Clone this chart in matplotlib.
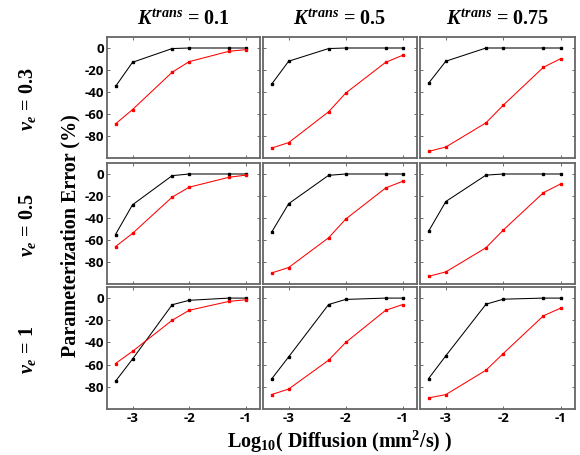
import numpy as np
import matplotlib
matplotlib.use("Agg")
import matplotlib.pyplot as plt

plt.rcParams['mathtext.fontset'] = 'custom'
plt.rcParams['mathtext.rm'] = 'Liberation Serif:bold'
plt.rcParams['mathtext.it'] = 'Liberation Serif:italic:bold'
plt.rcParams['mathtext.bf'] = 'Liberation Serif:bold'

# log10 of diffusion values
log_d = [-3.3, -3.0, -2.3, -2.0, -1.3, -1.0]

ktrans = ['0.1', '0.5', '0.75']
ve = ['0.3', '0.5', '1']

# black series, rows = ve, cols = ktrans
black = [
    [[-35, -13, -0.5, 0, 0, 0], [-33, -12, -0.5, 0, 0, 0], [-32, -12, 0, 0, 0, 0]],
    [[-55, -28, -1.5, 0, 0, 0], [-53, -27, -1.2, 0, 0, 0], [-52, -25, -1, 0, 0, 0]],
    [[-75, -55, -6, -2, 0, 0], [-73, -53, -5.8, -1.2, 0, 0], [-72.5, -52, -5.5, -1, 0, 0]],
]
# red series
red = [
    [[-69, -56, -22, -12.4, -3, -1.5], [-91, -86, -58, -41, -13, -6.6], [-94, -90, -68, -52, -17.5, -9.7]],
    [[-66, -54, -21, -12, -3, -1], [-90, -85, -58, -41, -12.7, -6.6], [-93, -89, -67, -51, -17, -9]],
    [[-59, -48, -20, -11, -3, -1.5], [-87, -82, -56, -40, -11, -5.8], [-90, -87, -65, -50, -16, -9]],
]

W, H = 580, 455
fig = plt.figure(figsize=(W / 100, H / 100), dpi=100)

cols_px = [(107, 260), (263, 417), (420, 575)]
rows_px = [(37, 158), (163, 284), (287, 409)]

tick_font = dict(family='Open Sans', weight='bold', size=9.5)
serif = ['Liberation Serif', 'DejaVu Serif']

for r, (yt, yb) in enumerate(rows_px):
    for c, (xl, xr) in enumerate(cols_px):
        ax = fig.add_axes([xl / W, 1 - yb / H, (xr - xl) / W, (yb - yt) / H])
        ax.plot(log_d, black[r][c], color='black', lw=0.75, marker='s', ms=1.8)
        ax.plot(log_d, red[r][c], color='red', lw=0.75, marker='s', ms=1.8)
        ax.set_xlim(-3.45, -0.75)
        ax.set_ylim(-100, 10)
        ax.set_xticks([-3, -2, -1])
        ax.set_yticks([0, -20, -40, -60, -80])
        ax.tick_params(direction='in', length=2, width=0.6, top=True, right=True,
                       color='#555555', pad=2)
        for s in ax.spines.values():
            s.set_color('#666666')
            s.set_linewidth(1.3)
        if c == 0:
            ax.set_yticklabels(['0', '-20', '-40', '-60', '-80'], fontdict=tick_font)
        else:
            ax.set_yticklabels([])
        if r == 2:
            ax.set_xticklabels(['-3', '-2', '-1'], fontdict=tick_font)
        else:
            ax.set_xticklabels([])

for c, (xl, xr) in enumerate(cols_px):
    fig.text((xl + xr) / 2 / W, 1 - 20 / H, r'$K^{trans}$ = ' + ktrans[c],
             ha='center', va='center', family=serif, weight='bold', fontsize=14.5)

for r, (yt, yb) in enumerate(rows_px):
    fig.text(28 / W, 1 - ((yt + yb) / 2 + 2) / H, r'$v_e$ = ' + ve[r], rotation=90,
             ha='center', va='center', family=serif, weight='bold', fontsize=14.5)

fig.text(70 / W, 1 - 236 / H, 'Parameterization Error (%)', rotation=90,
         ha='center', va='center', family=serif, weight='bold', fontsize=14.5)
fig.text(340 / W, 1 - 442 / H, r'Log$_{10}$( Diffusion (mm$^2$/s) )',
         ha='center', va='center', family=serif, weight='bold', fontsize=14.5)

fig.savefig('out.png', dpi=100)
